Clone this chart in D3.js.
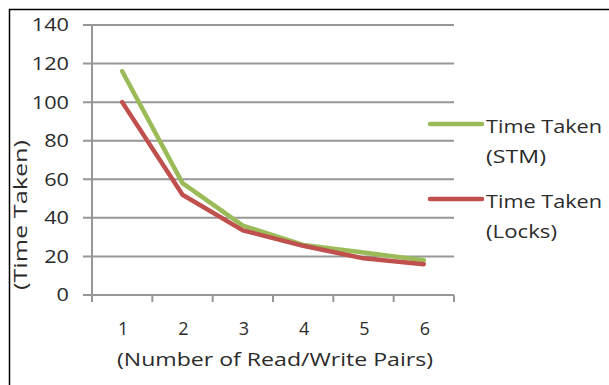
<!DOCTYPE html>
<html><head><meta charset="utf-8">
<script src="https://cdn.jsdelivr.net/npm/d3@7"></script>
<style>html,body{margin:0;padding:0;background:#fff;}svg{display:block;}</style>
</head><body>
<svg id="c" width="609" height="385"></svg>
<script>
const categories = ["1","2","3","4","5","6"];
const stmValues = [116, 58, 36, 26, 22, 18];
const lockValues = [100, 52, 33.5, 25.5, 19, 16];
const yTicks = [0, 20, 40, 60, 80, 100, 120, 140];
const seriesNames = [["Time Taken","(STM)"],["Time Taken","(Locks)"]];
const xTitle = "(Number of Read/Write Pairs)";
const yTitle = "(Time Taken)";

const svg = d3.select("#c");
const font = "'Open Sans', 'DejaVu Sans', sans-serif";
const textColor = "#2b2b2b";
const gridColor = "#979797";
const colors = ["#9BBB59", "#C0504D"];

// frame
svg.append("rect").attr("x", 9.5).attr("y", 9.5).attr("width", 700).attr("height", 500)
  .attr("fill", "none").attr("stroke", "#000").attr("stroke-width", 1.5);

const x = d3.scaleBand().domain(categories).range([92, 454]);
const y = d3.scaleLinear().domain([0, 140]).range([295, 25]);

// gridlines
svg.append("g").selectAll("line").data(yTicks).join("line")
  .attr("x1", 83).attr("x2", 454)
  .attr("y1", d => y(d)).attr("y2", d => y(d))
  .attr("stroke", gridColor).attr("stroke-width", 2);

// y axis line
svg.append("line").attr("x1", x.range()[0]).attr("x2", x.range()[0])
  .attr("y1", y(140)).attr("y2", y(0) + 1)
  .attr("stroke", gridColor).attr("stroke-width", 2);

// x tick marks at band boundaries
const boundaries = categories.map(c => x(c)).concat([x.range()[1]]);
svg.append("g").selectAll("line").data(boundaries).join("line")
  .attr("x1", d => d).attr("x2", d => d)
  .attr("y1", y(0)).attr("y2", y(0) + 7)
  .attr("stroke", gridColor).attr("stroke-width", 2);

// y tick labels
svg.append("g").selectAll("text").data(yTicks).join("text")
  .attr("x", 69).attr("y", d => y(d)).attr("dy", "0.36em")
  .attr("text-anchor", "end")
  .attr("font-family", font).attr("font-size", 18).attr("fill", textColor)
  .attr("textLength", d => String(d).length * 12.4).attr("lengthAdjust", "spacingAndGlyphs")
  .text(d => d);

// x tick labels
svg.append("g").selectAll("text").data(categories).join("text")
  .attr("x", d => x(d) + x.bandwidth() / 2 + 1).attr("y", 335)
  .attr("text-anchor", "middle")
  .attr("font-family", font).attr("font-size", 18).attr("fill", textColor)
  .text(d => d);

// axis titles
svg.append("text").attr("x", 275).attr("y", 366)
  .attr("text-anchor", "middle").attr("font-family", font).attr("font-size", 18)
  .attr("fill", textColor).attr("textLength", 316).attr("lengthAdjust", "spacingAndGlyphs")
  .text(xTitle);
svg.append("text").attr("transform", "translate(27,215) rotate(-90)")
  .attr("text-anchor", "middle").attr("font-family", font).attr("font-size", 19)
  .attr("fill", textColor).attr("textLength", 150).attr("lengthAdjust", "spacingAndGlyphs")
  .text(yTitle);

// lines
const line = d3.line().x((d, i) => x(categories[i]) + x.bandwidth() / 2).y(d => y(d));
[stmValues, lockValues].forEach((vals, i) => {
  svg.append("path").datum(vals).attr("d", line)
    .attr("fill", "none").attr("stroke", colors[i]).attr("stroke-width", 4.5)
    .attr("stroke-linejoin", "round").attr("stroke-linecap", "round");
});

// legend
const legendY = [124, 199];
const legendLen = [[116, 60], [116, 71]];
seriesNames.forEach((names, i) => {
  const g = svg.append("g");
  g.append("line").attr("x1", 430).attr("x2", 482)
    .attr("y1", legendY[i]).attr("y2", legendY[i])
    .attr("stroke", colors[i]).attr("stroke-width", 4.5).attr("stroke-linecap", "round");
  names.forEach((t, j) => {
    g.append("text").attr("x", 486).attr("y", legendY[i] + 9 + j * 30)
      .attr("font-family", font).attr("font-size", 17.5).attr("fill", textColor)
      .attr("textLength", legendLen[i][j]).attr("lengthAdjust", "spacingAndGlyphs")
      .text(t);
  });
});
</script>
</body></html>
